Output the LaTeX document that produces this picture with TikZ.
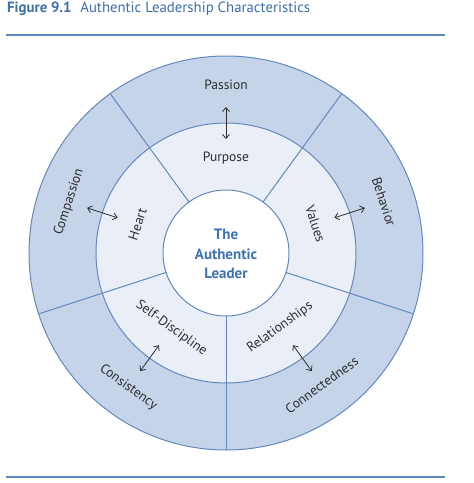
\documentclass[tikz,border=0pt]{standalone}
\usepackage{fontspec}
\setmainfont{PT Sans}
\usetikzlibrary{arrows.meta}
\definecolor{ringout}{HTML}{C6D4EA}
\definecolor{ringmid}{HTML}{E9EEF7}
\definecolor{wline}{HTML}{6389BB}
\definecolor{titleblue}{HTML}{3D6FA8}
\definecolor{ruleblue}{HTML}{5B88BF}
\definecolor{centerblue}{HTML}{3F72B0}
\definecolor{labelgray}{HTML}{2E2E2E}
\tikzset{
  wheelline/.style={draw=wline, line width=1pt},
  lbl/.style={text=labelgray, font=\fontsize{13.5}{15}\selectfont, inner sep=0pt},
  twoway/.style={draw=labelgray, line width=0.8pt, {Straight Barb[length=4pt,width=7pt]}-{Straight Barb[length=4pt,width=7pt]}},
  rulestyle/.style={draw=ruleblue, line width=1.6pt}
}
\begin{document}
\begin{tikzpicture}[x=1pt,y=1pt]
\useasboundingbox (0,0) rectangle (474,-483);
\fill[white] (0,0) rectangle (474,-483);
% title
\node[anchor=west, inner sep=0pt, text=titleblue, font=\fontsize{14.8}{16}\selectfont] (title) at (7,-9) {\textbf{Figure 9.1}\hspace{0.6em}Authentic Leadership Characteristics};
\coordinate (r1a) at (6,-35);
\coordinate (r1b) at (445,-35);
\draw[rulestyle] (r1a) -- (r1b);
\coordinate (r2a) at (6,-477);
\coordinate (r2b) at (445,-477);
\draw[rulestyle] (r2a) -- (r2b);
% wheel
\begin{scope}[shift={(226,-253)}]
  \coordinate (c) at (0,0);
  \fill[ringout] (c) circle (197);
  \fill[ringmid] (c) circle (130);
  \fill[white] (c) circle (63);
  \foreach \a in {54,126,198,270,342} {
    \draw[wheelline] (\a:63) -- (\a:197);
  }
  \draw[wheelline] (c) circle (197);
  \draw[wheelline] (c) circle (130);
  \draw[wheelline] (c) circle (63);
  \node[align=center, text=centerblue, font=\bfseries\fontsize{15}{19.5}\selectfont, inner sep=0pt] (center) at (0,-1) {The\\Authentic\\Leader};
  % labels
  \node[lbl] (passion) at (90:168) {Passion};
  \node[lbl] (purpose) at (90:95) {Purpose};
  \node[lbl, rotate=72] (compassion) at (162:165) {Compassion};
  \node[lbl, rotate=72] (heart) at (162:93) {Heart};
  \node[lbl, rotate=-72] (behavior) at (18:166) {Behavior};
  \node[lbl, rotate=-72] (values) at (18:94) {Values};
  \node[lbl, rotate=-36] (consistency) at (234:166) {Consistency};
  \node[lbl, rotate=-36] (selfdisc) at (234:93) {Self-Discipline};
  \node[lbl, rotate=36] (connected) at (306:163) {Connectedness};
  \node[lbl, rotate=36] (relations) at (306:92) {Relationships};
  % arrows
  \foreach \a/\n in {90/top,162/left,18/right,234/bl,306/br} {
    \coordinate (in\n) at (\a:114);
    \coordinate (out\n) at (\a:146);
    \draw[twoway] (in\n) -- (out\n);
  }
\end{scope}
\end{tikzpicture}
\end{document}
